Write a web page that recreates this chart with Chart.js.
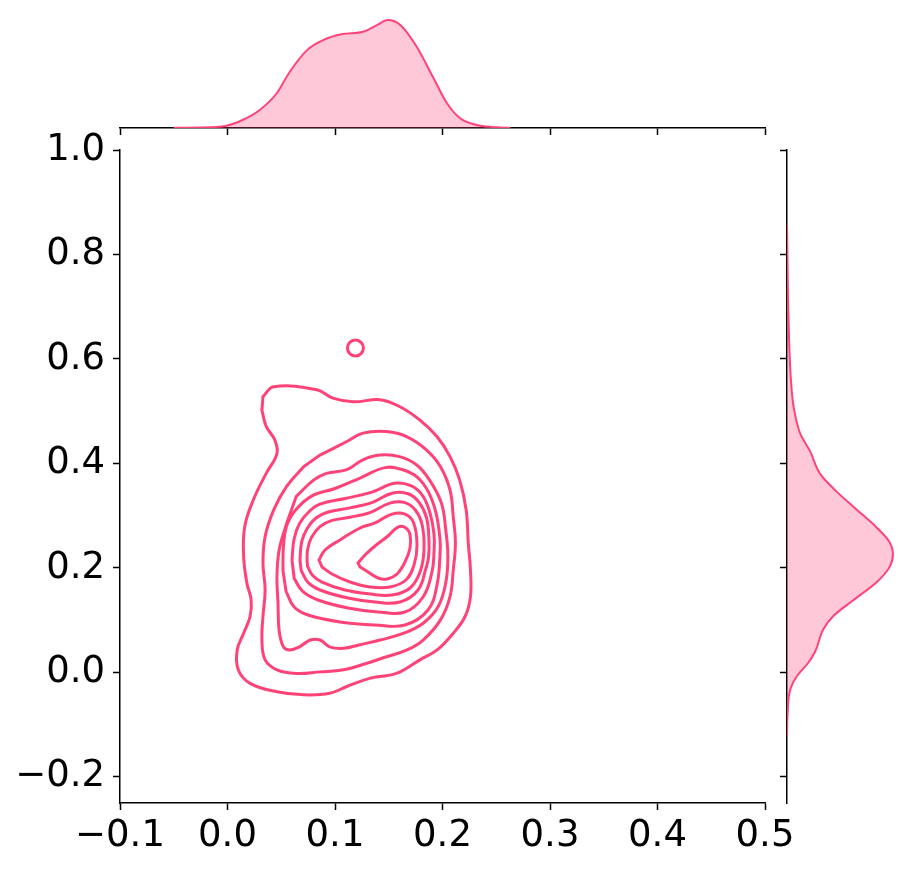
<!DOCTYPE html>
<html>
<head>
<meta charset="utf-8">
<script src="https://cdn.jsdelivr.net/npm/chart.js@4.4.0/dist/chart.umd.min.js"></script>
<style>
  body { margin: 0; background: #fff; }
  #wrap { position: relative; width: 909px; height: 873px; overflow: hidden; }
  canvas { position: absolute; }
</style>
</head>
<body>
<div id="wrap">
  <canvas id="topMargin" width="909" height="140" style="left:0;top:0"></canvas>
  <canvas id="rightMargin" width="139" height="873" style="left:770px;top:0"></canvas>
  <canvas id="main" width="909" height="873" style="left:0;top:0"></canvas>
</div>
<script>
// tick values
const xTicks = [-0.1, 0.0, 0.1, 0.2, 0.3, 0.4, 0.5];
const yTicks = [-0.2, 0.0, 0.2, 0.4, 0.6, 0.8, 1.0];

// contour lines of the joint KDE, outermost first, [x, y]
const level1 = [[0.033,0.528],[0.043,0.547],[0.083,0.541],[0.098,0.525],[0.117,0.518],[0.142,0.522],[0.160,0.509],[0.179,0.483],[0.195,0.451],[0.207,0.413],[0.216,0.368],[0.222,0.311],[0.224,0.247],[0.226,0.196],[0.226,0.145],[0.221,0.107],[0.210,0.075],[0.195,0.043],[0.179,0.024],[0.157,-0.002],[0.133,-0.011],[0.111,-0.027],[0.095,-0.040],[0.071,-0.043],[0.046,-0.037],[0.021,-0.021],[0.010,0.005],[0.009,0.043],[0.015,0.075],[0.021,0.107],[0.022,0.139],[0.018,0.171],[0.015,0.222],[0.016,0.279],[0.024,0.330],[0.036,0.381],[0.046,0.419],[0.044,0.445],[0.036,0.471],[0.032,0.502]];
const level2 = [[0.086,0.416],[0.111,0.442],[0.126,0.458],[0.148,0.461],[0.167,0.451],[0.185,0.426],[0.198,0.394],[0.207,0.349],[0.210,0.298],[0.212,0.247],[0.210,0.196],[0.207,0.145],[0.198,0.100],[0.182,0.062],[0.167,0.043],[0.148,0.030],[0.129,0.017],[0.108,0.005],[0.086,0.001],[0.064,-0.002],[0.046,0.005],[0.035,0.024],[0.032,0.062],[0.033,0.107],[0.035,0.158],[0.033,0.209],[0.035,0.260],[0.043,0.311],[0.055,0.356],[0.071,0.394]];
const level3 = [[0.064,0.337],[0.080,0.368],[0.092,0.381],[0.111,0.388],[0.126,0.407],[0.142,0.416],[0.160,0.413],[0.176,0.397],[0.188,0.368],[0.199,0.324],[0.203,0.273],[0.205,0.222],[0.203,0.171],[0.196,0.126],[0.182,0.094],[0.164,0.075],[0.142,0.062],[0.123,0.053],[0.108,0.046],[0.095,0.049],[0.086,0.062],[0.077,0.062],[0.067,0.049],[0.058,0.043],[0.052,0.049],[0.048,0.081],[0.047,0.132],[0.046,0.183],[0.048,0.234],[0.055,0.285]];
const level4 = [[0.0516,0.195],[0.0520,0.240],[0.0550,0.280],[0.0630,0.310],[0.0786,0.338],[0.1000,0.352],[0.1233,0.372],[0.1465,0.392],[0.163,0.388],[0.177,0.373],[0.187,0.345],[0.194,0.305],[0.1977,0.255],[0.1977,0.2247],[0.1949,0.1673],[0.1865,0.1194],[0.1651,0.0907],[0.1372,0.0907],[0.1047,0.0965],[0.0749,0.1098],[0.0620,0.125],[0.0545,0.155]];
const level5 = [[0.0600,0.2152],[0.0619,0.255],[0.0670,0.285],[0.0760,0.308],[0.0860,0.322],[0.1093,0.333],[0.1344,0.345],[0.155,0.362],[0.170,0.358],[0.181,0.340],[0.188,0.308],[0.1921,0.265],[0.1921,0.2300],[0.1902,0.1922],[0.1819,0.1443],[0.1651,0.1156],[0.1400,0.1156],[0.1121,0.1233],[0.0842,0.1386],[0.0700,0.155],[0.0620,0.180]];
const level6 = [[0.0674,0.2152],[0.0690,0.250],[0.0740,0.275],[0.0820,0.295],[0.0935,0.307],[0.1140,0.315],[0.1344,0.325],[0.153,0.343],[0.168,0.342],[0.178,0.326],[0.185,0.297],[0.1874,0.254],[0.1870,0.2200],[0.1847,0.1998],[0.1772,0.1577],[0.1605,0.1348],[0.1372,0.1348],[0.1121,0.1424],[0.0860,0.1577],[0.0750,0.172],[0.0685,0.195]];
const level7 = [[0.0740,0.2152],[0.0745,0.235],[0.0780,0.258],[0.0860,0.279],[0.0972,0.291],[0.1140,0.297],[0.1326,0.306],[0.151,0.324],[0.165,0.325],[0.175,0.310],[0.181,0.283],[0.1828,0.2343],[0.1791,0.1922],[0.1698,0.1616],[0.1530,0.1482],[0.1326,0.1501],[0.1093,0.1577],[0.0879,0.1730],[0.0790,0.186],[0.0745,0.203]];
const level8 = [[0.0851,0.2152],[0.0907,0.2343],[0.1047,0.2535],[0.1233,0.2764],[0.1372,0.2860],[0.153,0.303],[0.165,0.303],[0.173,0.287],[0.1763,0.2439],[0.1735,0.2056],[0.1660,0.1769],[0.1512,0.1635],[0.1326,0.1635],[0.1140,0.1730],[0.0972,0.1884],[0.0879,0.2018]];
const level9 = [[0.1214,0.2094],[0.1279,0.2247],[0.1372,0.2420],[0.1493,0.2611],[0.1586,0.2783],[0.1660,0.2764],[0.1698,0.2630],[0.1698,0.2381],[0.1651,0.2113],[0.1577,0.1884],[0.1484,0.1788],[0.1400,0.1807],[0.1307,0.1922],[0.1233,0.2018]];
// the little closed loop above the main body
const islandX = 0.119;
const islandY = 0.621;

// marginal densities
const topX = [-0.05, -0.026, -0.001, 0.014, 0.030, 0.046, 0.058, 0.074, 0.089, 0.107, 0.126, 0.139, 0.149, 0.161, 0.176, 0.191, 0.204, 0.216, 0.232, 0.247, 0.263];
const topDensity = [0.02, 0.03, 0.15, 0.52, 1.17, 2.27, 3.65, 5.05, 5.70, 6.09, 6.24, 6.67, 7.0, 6.67, 5.27, 3.32, 1.62, 0.65, 0.19, 0.06, 0.01];
const rightY = [0.857, 0.678, 0.559, 0.508, 0.457, 0.423, 0.380, 0.346, 0.312, 0.278, 0.249, 0.227, 0.202, 0.172, 0.138, 0.108, 0.083, 0.040, 0.019, -0.007, -0.032, -0.079, -0.122];
const rightDensity = [0, 0.1, 0.26, 0.44, 0.875, 1.53, 2.19, 3.28, 4.59, 5.9, 6.78, 7.0, 6.78, 5.9, 4.37, 3.06, 2.41, 1.86, 1.42, 0.66, 0.22, 0.04, 0];

const pink = '#ff4378';
const pinkFill = 'rgba(255, 66, 120, 0.29)';
const tickFont = { family: 'DejaVu Sans', size: 37 };

Chart.defaults.animation = false;
Chart.defaults.devicePixelRatio = 1;
Chart.defaults.responsive = false;
Chart.defaults.events = [];
Chart.defaults.plugins.legend.display = false;
Chart.defaults.plugins.tooltip.enabled = false;

function fmt(v) {
    return (v < 0 ? '\u2212' : '') + Math.abs(v).toFixed(1);
}

// spine + outward ticks, no grid
function spine(tickValues, labels, pad) {
    return {
        afterBuildTicks: function(s) { s.ticks = tickValues.map(v => ({ value: v })); },
        grid: { display: true, drawOnChartArea: false, drawTicks: true, tickLength: 7, tickWidth: 1.5, tickColor: '#000' },
        border: { display: true, color: '#000', width: 1.5 },
        ticks: { display: labels, font: tickFont, color: '#000', padding: pad, maxRotation: 0, autoSkip: false, callback: fmt }
    };
}

// draw contour datasets as closed smooth loops (same trick the radar chart uses)
const closeContours = {
    id: 'closeContours',
    beforeDatasetsDraw: function(chart) {
        chart.data.datasets.forEach(function(ds, i) {
            if (!ds.closed) return;
            const line = chart.getDatasetMeta(i).dataset;
            if (!line) return;
            line._loop = true;
            line._fullLoop = true;
            line._pointsUpdated = false;
            line._segments = undefined;
            line._path = undefined;
        });
    }
};

/**
 * Main panel with the contour lines
 */
const contourSets = [level1, level2, level3, level4, level5, level6, level7, level8, level9].map(function(c) {
    return {
        data: c.map(p => ({ x: p[0], y: p[1] })),
        closed: true,
        showLine: true,
        borderColor: pink,
        borderWidth: 3,
        pointRadius: 0,
        tension: 0.4,
        fill: false
    };
});
contourSets.push({
    data: [{ x: islandX, y: islandY }],
    showLine: false,
    pointRadius: 8,
    pointBorderWidth: 3,
    pointBorderColor: pink,
    pointBackgroundColor: 'rgba(0,0,0,0)'
});

new Chart(document.getElementById('main'), {
    type: 'scatter',
    data: { datasets: contourSets },
    plugins: [closeContours],
    options: {
        layout: { padding: { left: 0, top: 150, right: 144, bottom: 0 } },
        scales: {
            x: Object.assign({ type: 'linear', min: -0.1, max: 0.5,
                afterFit: function(s) { s.height = 70; } }, spine(xTicks, true, 4)),
            y: Object.assign({ type: 'linear', min: -0.25, max: 1.0,
                afterFit: function(s) { s.width = 120; } }, spine(yTicks, true, 8))
        }
    }
});

/**
 * Top marginal density
 */
new Chart(document.getElementById('topMargin'), {
    type: 'line',
    data: {
        datasets: [{
            data: topX.map((x, i) => ({ x: x, y: topDensity[i] })),
            borderColor: pink,
            borderWidth: 2,
            backgroundColor: pinkFill,
            fill: 'origin',
            pointRadius: 0,
            cubicInterpolationMode: 'monotone'
        }]
    },
    options: {
        layout: { padding: { left: 120, top: 0, right: 144, bottom: 0 } },
        scales: {
            x: Object.assign({ type: 'linear', min: -0.1, max: 0.5,
                afterFit: function(s) { s.height = 12; } }, spine(xTicks, false, 0)),
            y: { type: 'linear', min: 0, max: 8.3, display: false }
        }
    }
});

/**
 * Right marginal density
 */
new Chart(document.getElementById('rightMargin'), {
    type: 'line',
    data: {
        datasets: [{
            data: rightY.map((y, i) => ({ x: rightDensity[i], y: y })),
            borderColor: pink,
            borderWidth: 2,
            backgroundColor: pinkFill,
            fill: 'origin',
            pointRadius: 0,
            cubicInterpolationMode: 'monotone'
        }]
    },
    options: {
        indexAxis: 'y',
        layout: { padding: { left: 0, top: 150, right: 0, bottom: 70 } },
        scales: {
            x: { type: 'linear', min: 0, max: 8.06, display: false },
            y: Object.assign({ type: 'linear', min: -0.25, max: 1.0, position: 'left',
                afterFit: function(s) { s.width = 17; } }, spine(yTicks, false, 0))
        }
    }
});
</script>
</body>
</html>
